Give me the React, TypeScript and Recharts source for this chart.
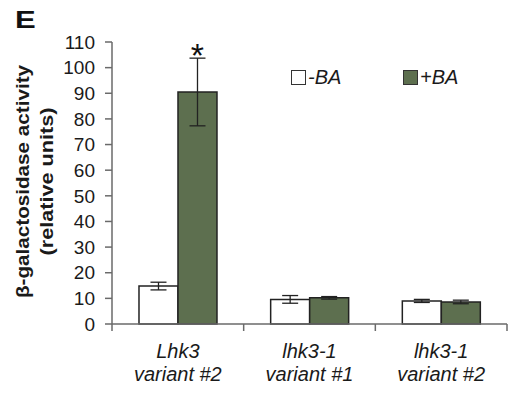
import React from "react";
import { Bar, BarChart, ErrorBar, LabelList, Legend, XAxis, YAxis } from "recharts";

const CATEGORIES = ["Lhk3 variant #2", "lhk3-1 variant #1", "lhk3-1 variant #2"];
const CATEGORY_LINE1 = ["Lhk3", "lhk3-1", "lhk3-1"];
const CATEGORY_LINE2 = ["variant #2", "variant #1", "variant #2"];
const MINUS_BA = [14.8, 9.6, 9.0];
const MINUS_BA_ERR = [1.5, 1.5, 0.6];
const PLUS_BA = [90.5, 10.2, 8.6];
const PLUS_BA_ERR = [13.2, 0.5, 0.7];
const SIGNIFICANCE = ["*", "", ""];
const Y_TICKS = [0, 10, 20, 30, 40, 50, 60, 70, 80, 90, 100, 110];

const FONT = "'Liberation Sans', Arial, Helvetica, sans-serif";
const GREEN = "#5d6f4f";
const AXIS = "#6a6a6a";

const data = CATEGORIES.map((c, i) => ({
  name: c,
  minus: MINUS_BA[i],
  minusErr: MINUS_BA_ERR[i],
  plus: PLUS_BA[i],
  plusErr: PLUS_BA_ERR[i],
  sig: SIGNIFICANCE[i],
}));

function CategoryTick(props: any) {
  const { x, y, payload, index } = props;
  const half = payload.offset ?? 0;
  const last = index === CATEGORIES.length - 1;
  return (
    <g>
      <line x1={x - half} x2={x - half} y1={y} y2={y + 7} stroke={AXIS} strokeWidth={1.5} />
      {last && <line x1={x + half} x2={x + half} y1={y} y2={y + 7} stroke={AXIS} strokeWidth={1.5} />}
      <text x={x} y={y + 34} textAnchor="middle" fontSize={20} fontStyle="italic" fontFamily={FONT} fill="#1a1a1a">
        {CATEGORY_LINE1[index]}
      </text>
      <text x={x} y={y + 57} textAnchor="middle" fontSize={20} fontStyle="italic" fontFamily={FONT} fill="#1a1a1a">
        {CATEGORY_LINE2[index]}
      </text>
    </g>
  );
}

function YLabel() {
  const cy = 181.5;
  return (
    <g fontFamily={FONT} fontWeight="bold" fontSize={18} fill="#1a1a1a">
      <text x={29} y={cy} textAnchor="middle" transform={`rotate(-90 29 ${cy})`} textLength={233} lengthAdjust="spacingAndGlyphs">
        β-galactosidase activity
      </text>
      <text x={53} y={cy} textAnchor="middle" transform={`rotate(-90 53 ${cy})`} textLength={148} lengthAdjust="spacingAndGlyphs">
        (relative units)
      </text>
    </g>
  );
}

function Star(props: any) {
  const { x, y, width, height, index, value } = props;
  if (!value) return null;
  const pxPerUnit = height / PLUS_BA[index];
  const whiskerTop = y - PLUS_BA_ERR[index] * pxPerUnit;
  return (
    <text x={x + width / 2} y={whiskerTop + 8.5} textAnchor="middle" fontSize={34} fontFamily={FONT} fill="#111">
      {value}
    </text>
  );
}

function LegendBox() {
  const item = (fill: string, label: string, w: number) => (
    <div style={{ display: "flex", alignItems: "center", width: w }}>
      <span style={{ display: "inline-block", width: 13, height: 13, border: "1.5px solid #333", background: fill }} />
      <span style={{ marginLeft: 2, fontSize: 20, fontStyle: "italic", fontFamily: FONT, color: "#1a1a1a" }}>{label}</span>
    </div>
  );
  return (
    <div style={{ display: "flex" }}>
      {item("#fff", "-BA", 112)}
      {item(GREEN, "+BA", 90)}
    </div>
  );
}

export default function App() {
  return (
    <div style={{ position: "absolute", left: 0, top: 0, width: 509, height: 393, background: "#fff" }}>
      <div style={{ position: "absolute", left: 15, top: 7, fontFamily: FONT, fontWeight: "bold", fontSize: 23, lineHeight: "normal", transform: "scaleX(1.35)", transformOrigin: "left", color: "#111" }}>
        E
      </div>
      <BarChart width={509} height={393} data={data} margin={{ top: 42, right: 2, bottom: 0, left: 0 }} barCategoryGap="20.5%" barGap={0}>
        <XAxis dataKey="name" height={69} tickSize={0} tickMargin={0} tickLine={false} stroke={AXIS} strokeWidth={1.5} tick={<CategoryTick />} interval={0} />
        <YAxis
          width={112}
          domain={[0, 110]}
          ticks={Y_TICKS}
          interval={0}
          tickSize={7}
          tickMargin={10}
          stroke={AXIS}
          strokeWidth={1.5}
          tick={{ fontSize: 19, fontFamily: FONT, fill: "#1a1a1a" }}
          label={{ content: () => <YLabel /> }}
        />
        <Legend layout="horizontal" verticalAlign="middle" align="center" content={() => <LegendBox />} wrapperStyle={{ left: 291, top: 66, width: 210 }} />
        <Bar dataKey="minus" fill="#fff" stroke="#222" strokeWidth={1.5} isAnimationActive={false}>
          <ErrorBar dataKey="minusErr" width={8} stroke="#222" strokeWidth={1.3} />
        </Bar>
        <Bar dataKey="plus" fill={GREEN} stroke="#222" strokeWidth={1.5} isAnimationActive={false}>
          <ErrorBar dataKey="plusErr" width={8} stroke="#222" strokeWidth={1.3} />
          <LabelList dataKey="sig" content={<Star />} />
        </Bar>
      </BarChart>
    </div>
  );
}
